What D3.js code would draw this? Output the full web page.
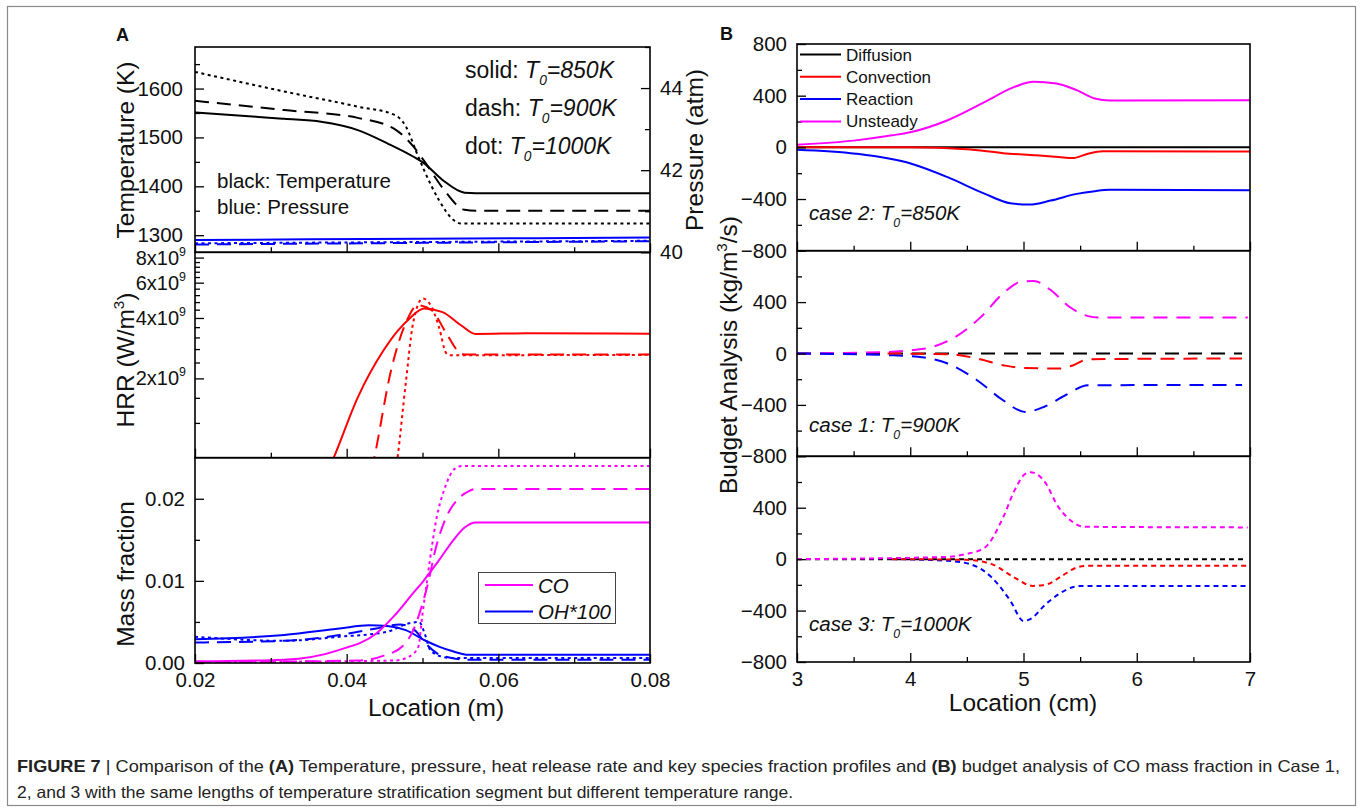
<!DOCTYPE html>
<html><head><meta charset="utf-8">
<script src="https://cdn.jsdelivr.net/npm/d3@7"></script>
<style>
html,body{margin:0;padding:0;background:#fff;}
svg{display:block;font-family:Arial,"Liberation Sans",Helvetica,sans-serif;}
</style></head>
<body>
<svg id="chart" width="1363" height="812"></svg>
<script>
// ---------------- DATA ----------------
// Panel A: x = location (m)
const xTicksA = [0.02, 0.04, 0.06, 0.08];
const xMinorA = [0.03, 0.05, 0.07];
const tempTicks = [1300, 1400, 1500, 1600];
const tempMinor = [1350, 1450, 1550, 1650];
const presTicks = [40, 42, 44];
const presMinor = [41, 43, 45];
const hrrTicks = [2e9, 4e9, 6e9, 8e9];
const hrrTickLabels = ["2x10", "4x10", "6x10", "8x10"];
const hrrMinor = [1.2e9, 1.6e9, 2.4e9, 2.8e9, 3.2e9, 3.6e9, 4.4e9, 4.8e9, 5.2e9, 5.6e9, 6.4e9, 6.8e9, 7.2e9, 7.6e9];
const mfTicks = [0, 0.01, 0.02];
const mfMinor = [0.005, 0.015];

// Temperature (K)
const tempSolid  = [[0.02,1551],[0.02836,1542],[0.03176,1538],[0.03662,1532],[0.04147,1515],[0.04536,1488],[0.04876,1461],[0.05021,1447],[0.05264,1413],[0.05556,1387],[0.05702,1386],[0.08,1386]];
const tempDash   = [[0.02,1575],[0.03176,1556],[0.04147,1540],[0.04633,1517],[0.04876,1482],[0.05021,1452],[0.05264,1397],[0.05556,1352],[0.05702,1350],[0.08,1350]];
const tempDot    = [[0.02,1634],[0.03176,1594],[0.04147,1563],[0.04633,1546],[0.04779,1523],[0.04925,1468],[0.05021,1433],[0.05216,1372],[0.0541,1331],[0.05507,1324],[0.08,1324]];
// Pressure (atm)
const presSolid  = [[0.02,40.30],[0.05,40.33],[0.08,40.36]];
const presDash   = [[0.02,40.19],[0.05,40.23],[0.08,40.27]];
const presDot    = [[0.02,40.22],[0.05,40.25],[0.08,40.28]];
// Heat release rate (W/m3)
const hrrSolid   = [[0.03760,7.0e8],[0.03832,8.1e8],[0.04147,1.61e9],[0.04487,2.76e9],[0.04681,3.48e9],[0.04827,3.97e9],[0.05021,4.46e9],[0.05264,4.28e9],[0.05507,3.68e9],[0.05702,3.33e9],[0.06382,3.36e9],[0.08,3.34e9]];
const hrrDash    = [[0.04330,7.0e8],[0.04366,8.1e8],[0.04585,2.19e9],[0.04779,3.77e9],[0.04935,4.63e9],[0.05119,4.38e9],[0.05313,3.36e9],[0.05483,2.70e9],[0.05556,2.63e9],[0.08,2.63e9]];
const hrrDot     = [[0.04650,7.0e8],[0.04672,8.1e8],[0.04779,1.89e9],[0.04876,3.77e9],[0.05005,5.0e9],[0.05119,4.55e9],[0.05216,3.62e9],[0.05313,2.67e9],[0.05362,2.61e9],[0.08,2.62e9]];
// Mass fraction: CO and OH*100
const coSolid    = [[0.02,0.0002],[0.03176,0.0004],[0.03905,0.0016],[0.0439,0.0036],[0.04633,0.0058],[0.04876,0.0085],[0.05021,0.0101],[0.05216,0.0125],[0.0541,0.0150],[0.05556,0.0165],[0.05702,0.0171],[0.08,0.0171]];
const coDash     = [[0.02,0.0001],[0.04147,0.0003],[0.0449,0.0009],[0.04733,0.0020],[0.04879,0.0040],[0.04976,0.0065],[0.05073,0.0097],[0.0517,0.0138],[0.05316,0.0178],[0.05462,0.0199],[0.05606,0.0209],[0.05704,0.0212],[0.08,0.0212]];
const coDot      = [[0.02,0.0001],[0.04633,0.0003],[0.04829,0.0008],[0.04946,0.0020],[0.04995,0.0056],[0.05043,0.0089],[0.05091,0.0121],[0.05189,0.0178],[0.05286,0.0211],[0.05432,0.0237],[0.05529,0.0240],[0.08,0.0240]];
const ohSolid    = [[0.02,0.0029],[0.03176,0.0034],[0.03905,0.0042],[0.04293,0.0046],[0.04536,0.0045],[0.04779,0.0040],[0.05021,0.0028],[0.05216,0.0020],[0.0541,0.0014],[0.05604,0.0010],[0.08,0.0010]];
const ohDash     = [[0.02,0.0025],[0.03176,0.0027],[0.03905,0.0034],[0.0439,0.0042],[0.04701,0.0047],[0.04896,0.0040],[0.05041,0.0024],[0.05187,0.0012],[0.05382,0.0006],[0.05576,0.0004],[0.08,0.0004]];
const ohDot      = [[0.02,0.0032],[0.03176,0.0027],[0.03905,0.0032],[0.04536,0.0038],[0.04809,0.0048],[0.04955,0.0050],[0.05028,0.0036],[0.051,0.0016],[0.05246,0.0008],[0.05392,0.0006],[0.08,0.0006]];

// Panel B: x = location (cm), budget terms (kg/m3/s)
const xTicksB = [3, 4, 5, 6, 7];
const xMinorB = [3.5, 4.5, 5.5, 6.5];
const budgetTicks = [-800, -400, 0, 400, 800];
const budgetMinor = [-600, -200, 200, 600];
const budgetTerms = ["Diffusion", "Convection", "Reaction", "Unsteady"];
const termColors = ["#000000", "#ff0000", "#0000ff", "#ff00ff"];
// case 2 (T0=850K) solid
const c2Diffusion  = [[3.0,0],[7.0,0]];
const c2Convection = [[3.0,0],[4.0,0],[4.5,-15],[4.82,-45],[5.11,-62],[5.31,-75],[5.44,-83],[5.57,-49],[5.70,-31],[7.0,-33]];
const c2Reaction   = [[3.0,-18],[3.52,-49],[4.01,-127],[4.33,-231],[4.66,-360],[4.885,-433],[5.05,-443],[5.24,-412],[5.47,-360],[5.63,-339],[5.76,-329],[7.0,-333]];
const c2Unsteady   = [[3.0,21],[3.52,54],[3.84,93],[4.01,119],[4.33,210],[4.66,352],[4.92,468],[5.09,507],[5.29,495],[5.47,443],[5.63,378],[5.76,362],[7.0,365]];
// case 1 (T0=900K) dashed
const c1Diffusion  = [[3.0,0],[6.93,0]];
const c1Convection = [[3.8,0],[4.33,-5],[4.59,-39],[4.82,-91],[4.98,-112],[5.31,-117],[5.44,-91],[5.57,-44],[6.93,-39]];
const c1Reaction   = [[3.0,0],[3.81,-13],[4.07,-26],[4.33,-78],[4.59,-208],[4.82,-364],[5.015,-455],[5.18,-416],[5.37,-325],[5.57,-247],[6.93,-245]];
const c1Unsteady   = [[3.0,0],[3.81,12],[4.01,26],[4.2,52],[4.4,130],[4.625,285],[4.82,468],[4.98,558],[5.09,564],[5.24,494],[5.405,364],[5.57,291],[5.665,281],[6.98,281]];
// case 3 (T0=1000K) dotted
const c3Diffusion  = [[3.0,0],[6.95,0]];
const c3Convection = [[3.84,0],[4.49,-5],[4.72,-39],[4.92,-143],[5.08,-208],[5.21,-195],[5.34,-130],[5.47,-65],[5.57,-52],[6.98,-52]];
const c3Reaction   = [[3.84,0],[4.33,-13],[4.53,-39],[4.72,-143],[4.885,-325],[5.0,-481],[5.08,-455],[5.18,-364],[5.31,-273],[5.44,-216],[5.50,-208],[6.98,-208]];
const c3Unsteady   = [[3.0,0],[4.33,18],[4.49,39],[4.66,91],[4.82,325],[4.92,533],[5.015,663],[5.06,676],[5.18,611],[5.31,403],[5.44,286],[5.535,252],[6.98,247]];

// ---------------- DRAWING ----------------
const svg = d3.select("#chart");
const FONT = 'Arial,"Liberation Sans",Helvetica,sans-serif';
svg.append("rect").attr("x",0).attr("y",0).attr("width",1363).attr("height",812).attr("fill","#fff");
svg.append("rect").attr("x",7.5).attr("y",6.5).attr("width",1348).attr("height",799)
  .attr("fill","none").attr("stroke","#8a8a8a").attr("stroke-width",1.2);

const DASH_A = "14,8", DOT_A = "3,3.5", DASH_B = "14,9", DOT_B = "5,4";
let clipId = 0;

function panel(x0, x1, y0, y1) {
  const id = "clip" + (clipId++);
  svg.append("clipPath").attr("id", id).append("rect")
    .attr("x", x0).attr("y", y0).attr("width", x1 - x0).attr("height", y1 - y0);
  return svg.append("g").attr("clip-path", `url(#${id})`);
}
function frame(x0, x1, y0, y1) {
  svg.append("rect").attr("x", x0).attr("y", y0).attr("width", x1 - x0).attr("height", y1 - y0)
    .attr("fill", "none").attr("stroke", "#000").attr("stroke-width", 1.6);
}
function styleAxis(g, fs) {
  g.select(".domain").remove();
  g.selectAll("line").attr("stroke", "#000").attr("stroke-width", 1.3);
  g.selectAll("text").attr("font-family", FONT).attr("font-size", fs).attr("fill", "#111");
}
function addLeft(scale, ticks, minor, xPos, fmt, showLabels, fs, pad) {
  const ga = svg.append("g").attr("transform", `translate(${xPos},0)`)
    .call(d3.axisLeft(scale).tickValues(ticks).tickSize(-9).tickPadding(pad || 10)
      .tickFormat(showLabels ? fmt : () => ""));
  styleAxis(ga, fs);
  const gm = svg.append("g").attr("transform", `translate(${xPos},0)`)
    .call(d3.axisLeft(scale).tickValues(minor).tickSize(-5).tickFormat(() => ""));
  styleAxis(gm, fs);
  return ga;
}
function addRight(scale, ticks, minor, xPos, fmt, fs) {
  const ga = svg.append("g").attr("transform", `translate(${xPos},0)`)
    .call(d3.axisRight(scale).tickValues(ticks).tickSize(-9).tickPadding(10).tickFormat(fmt));
  styleAxis(ga, fs);
  const gm = svg.append("g").attr("transform", `translate(${xPos},0)`)
    .call(d3.axisRight(scale).tickValues(minor).tickSize(-5).tickFormat(() => ""));
  styleAxis(gm, fs);
}
function addBottom(scale, ticks, minor, yPos, fmt, showLabels, fs) {
  const ga = svg.append("g").attr("transform", `translate(0,${yPos})`)
    .call(d3.axisBottom(scale).tickValues(ticks).tickSize(-9).tickPadding(9)
      .tickFormat(showLabels ? fmt : () => ""));
  styleAxis(ga, fs);
  const gm = svg.append("g").attr("transform", `translate(0,${yPos})`)
    .call(d3.axisBottom(scale).tickValues(minor).tickSize(-5).tickFormat(() => ""));
  styleAxis(gm, fs);
}
function drawLine(g, data, xs, ys, color, dash, w) {
  const line = d3.line().x(d => xs(d[0])).y(d => ys(d[1])).curve(d3.curveMonotoneX);
  g.append("path").datum(data).attr("d", line).attr("fill", "none")
    .attr("stroke", color).attr("stroke-width", w || 2)
    .attr("stroke-dasharray", dash || null).attr("stroke-linejoin", "round");
}
function rotLabel(x, y, parts, fs) {
  const t = svg.append("text").attr("transform", `translate(${x},${y}) rotate(-90)`)
    .attr("text-anchor", "middle").attr("font-family", FONT).attr("font-size", fs).attr("fill", "#111");
  parts.forEach(p => {
    const ts = t.append("tspan").text(p.t);
    if (p.sup) ts.attr("font-size", fs * 0.62).attr("dy", -fs * 0.42);
    if (p.back) ts.attr("dy", fs * 0.42);
  });
  return t;
}
function richText(x, y, parts, fs, opts) {
  opts = opts || {};
  const t = svg.append("text").attr("x", x).attr("y", y).attr("font-family", FONT)
    .attr("font-size", fs).attr("fill", opts.fill || "#111");
  if (opts.anchor) t.attr("text-anchor", opts.anchor);
  parts.forEach(p => {
    const ts = t.append("tspan").text(p.t);
    if (p.it) ts.attr("font-style", "italic");
    if (p.bold) ts.attr("font-weight", "bold");
    if (p.sub) ts.attr("font-size", fs * 0.6).attr("dy", fs * 0.32);
    if (p.subBack) ts.attr("dy", -fs * 0.32);
    if (p.sup) ts.attr("font-size", fs * 0.62).attr("dy", -fs * 0.45);
  });
  return t;
}

// ===== Panel A =====
const AX0 = 195, AX1 = 650;
const AY = [47, 252.3, 457.7, 663];
const xA = d3.scaleLinear().domain([0.02, 0.08]).range([AX0, AX1]);
const yT = d3.scaleLinear().domain([1265, 1685]).range([AY[1], AY[0]]);
const yP = d3.scaleLinear().domain([40, 45]).range([AY[1], AY[0]]);
const yH = d3.scaleLog().domain([8.05e8, 8.5e9]).range([AY[2], AY[1]]);
const yM = d3.scaleLinear().domain([0, 0.025]).range([AY[3], AY[2]]);

const gA1 = panel(AX0, AX1, AY[0], AY[1]);
drawLine(gA1, presDash, xA, yP, "#0000ff", DASH_A);
drawLine(gA1, presDot, xA, yP, "#0000ff", DOT_A);
drawLine(gA1, presSolid, xA, yP, "#0000ff");
drawLine(gA1, tempDot, xA, yT, "#000", DOT_A);
drawLine(gA1, tempDash, xA, yT, "#000", DASH_A);
drawLine(gA1, tempSolid, xA, yT, "#000");
const gA2 = panel(AX0, AX1, AY[1], AY[2]);
drawLine(gA2, hrrDot, xA, yH, "#ff0000", DOT_A);
drawLine(gA2, hrrDash, xA, yH, "#ff0000", DASH_A);
drawLine(gA2, hrrSolid, xA, yH, "#ff0000");
const gA3 = panel(AX0, AX1, AY[2], AY[3]);
drawLine(gA3, ohDot, xA, yM, "#0000ff", DOT_A);
drawLine(gA3, ohDash, xA, yM, "#0000ff", DASH_A);
drawLine(gA3, ohSolid, xA, yM, "#0000ff");
drawLine(gA3, coDot, xA, yM, "#ff00ff", DOT_A);
drawLine(gA3, coDash, xA, yM, "#ff00ff", DASH_A);
drawLine(gA3, coSolid, xA, yM, "#ff00ff");

[0,1,2].forEach(i => frame(AX0, AX1, AY[i], AY[i+1]));
addLeft(yT, tempTicks, tempMinor, AX0, d3.format("d"), true, 20.5, 12);
addRight(yP, presTicks, presMinor, AX1, d3.format("d"), 20.5);
addLeft(yH, hrrTicks, hrrMinor, AX0, null, false, 20);
hrrTicks.forEach((v, i) => {
  richText(AX0 - 9, yH(v) + 7, [{t: hrrTickLabels[i]}, {t: "9", sup: true}], 20, {anchor: "end"});
});
addLeft(yM, mfTicks, mfMinor, AX0, d3.format(".2f"), true, 20.5);
addBottom(xA, xTicksA, xMinorA, AY[1], null, false, 20);
addBottom(xA, xTicksA, xMinorA, AY[2], null, false, 20);
addBottom(xA, xTicksA, xMinorA, AY[3], d3.format(".2f"), true, 20.5);

rotLabel(134, 150, [{t: "Temperature (K)"}], 24.5);
rotLabel(134, 360, [{t: "HRR (W/m"}, {t: "3", sup: true}, {t: ")", back: true}], 24.5);
rotLabel(134, 574, [{t: "Mass fraction"}], 24.5);
rotLabel(703, 150, [{t: "Pressure (atm)"}], 24.5);
richText(436, 716, [{t: "Location (m)"}], 24.5, {anchor: "middle"});

richText(465, 78, [{t: "solid: "}, {t: "T", it: true}, {t: "0", it: true, sub: true}, {t: "=850K", it: true, subBack: true}], 23);
richText(465, 116, [{t: "dash: "}, {t: "T", it: true}, {t: "0", it: true, sub: true}, {t: "=900K", it: true, subBack: true}], 23);
richText(465, 154, [{t: "dot: "}, {t: "T", it: true}, {t: "0", it: true, sub: true}, {t: "=1000K", it: true, subBack: true}], 23);
richText(217, 188, [{t: "black: Temperature"}], 20.5);
richText(217, 214, [{t: "blue: Pressure"}], 20.5);

const legA = [{name: "CO", color: "#ff00ff"}, {name: "OH*100", color: "#0000ff"}];
svg.append("rect").attr("x", 478.5).attr("y", 572.5).attr("width", 137).attr("height", 51)
  .attr("fill", "#fff").attr("stroke", "#444").attr("stroke-width", 1);
legA.forEach((d, i) => {
  const yy = 585 + i * 26.5;
  svg.append("line").attr("x1", 485).attr("x2", 533).attr("y1", yy).attr("y2", yy)
    .attr("stroke", d.color).attr("stroke-width", 2);
  richText(538, yy + 7.5, [{t: d.name, it: true}], 20.5);
});

// ===== Panel B =====
const BX0 = 797, BX1 = 1250;
const BY = [44, 250.7, 456.3, 662];
const xB = d3.scaleLinear().domain([3, 7]).range([BX0, BX1]);
const yB = [0,1,2].map(i => d3.scaleLinear().domain([-800, 800]).range([BY[i+1], BY[i]]));
const cases = [
  {data: [c2Diffusion, c2Convection, c2Reaction, c2Unsteady], dash: null},
  {data: [c1Diffusion, c1Convection, c1Reaction, c1Unsteady], dash: DASH_B},
  {data: [c3Diffusion, c3Convection, c3Reaction, c3Unsteady], dash: DOT_B}
];
const drawOrder = [0, 3, 2, 1];
cases.forEach((c, i) => {
  const g = panel(BX0, BX1, BY[i], BY[i+1]);
  drawOrder.forEach(k => drawLine(g, c.data[k], xB, yB[i], termColors[k], c.dash));
});
[0,1,2].forEach(i => frame(BX0, BX1, BY[i], BY[i+1]));
[0,1,2].forEach(i => {
  const ticks = i === 0 ? budgetTicks : budgetTicks.filter(v => v !== 800);
  addLeft(yB[i], ticks, budgetMinor, BX0, d3.format("d"), true, 20.5);
  addBottom(xB, xTicksB, xMinorB, BY[i+1], d3.format("d"), i === 2, 20.5);
});
richText(1023, 711, [{t: "Location (cm)"}], 24.5, {anchor: "middle"});
rotLabel(737, 355, [{t: "Budget Analysis (kg/m"}, {t: "3", sup: true}, {t: "/s)", back: true}], 24.5);

budgetTerms.forEach((name, i) => {
  const yy = 54.5 + i * 22.3;
  svg.append("line").attr("x1", 800).attr("x2", 841).attr("y1", yy).attr("y2", yy)
    .attr("stroke", termColors[i]).attr("stroke-width", 2);
  richText(846, yy + 6, [{t: name}], 17);
});

richText(809, 220, [{t: "case 2: ", it: true}, {t: "T", it: true}, {t: "0", it: true, sub: true}, {t: "=850K", it: true, subBack: true}], 20.5);
richText(809, 432, [{t: "case 1: ", it: true}, {t: "T", it: true}, {t: "0", it: true, sub: true}, {t: "=900K", it: true, subBack: true}], 20.5);
richText(809, 631, [{t: "case 3: ", it: true}, {t: "T", it: true}, {t: "0", it: true, sub: true}, {t: "=1000K", it: true, subBack: true}], 20.5);

richText(116, 41, [{t: "A", bold: true}], 18);
richText(720, 40, [{t: "B", bold: true}], 18);

const cap1 = richText(17, 772, [
  {t: "FIGURE 7", bold: true}, {t: " | Comparison of the "}, {t: "(A)", bold: true},
  {t: " Temperature, pressure, heat release rate and key species fraction profiles and "},
  {t: "(B)", bold: true}, {t: " budget analysis of CO mass fraction in Case 1,"}], 16.5, {fill: "#222"});
cap1.attr("textLength", 1323).attr("lengthAdjust", "spacingAndGlyphs");
const cap2 = richText(17, 798, [{t: "2, and 3 with the same lengths of temperature stratification segment but different temperature range."}], 16.5, {fill: "#222"});
cap2.attr("textLength", 776).attr("lengthAdjust", "spacingAndGlyphs");
</script>
</body></html>
